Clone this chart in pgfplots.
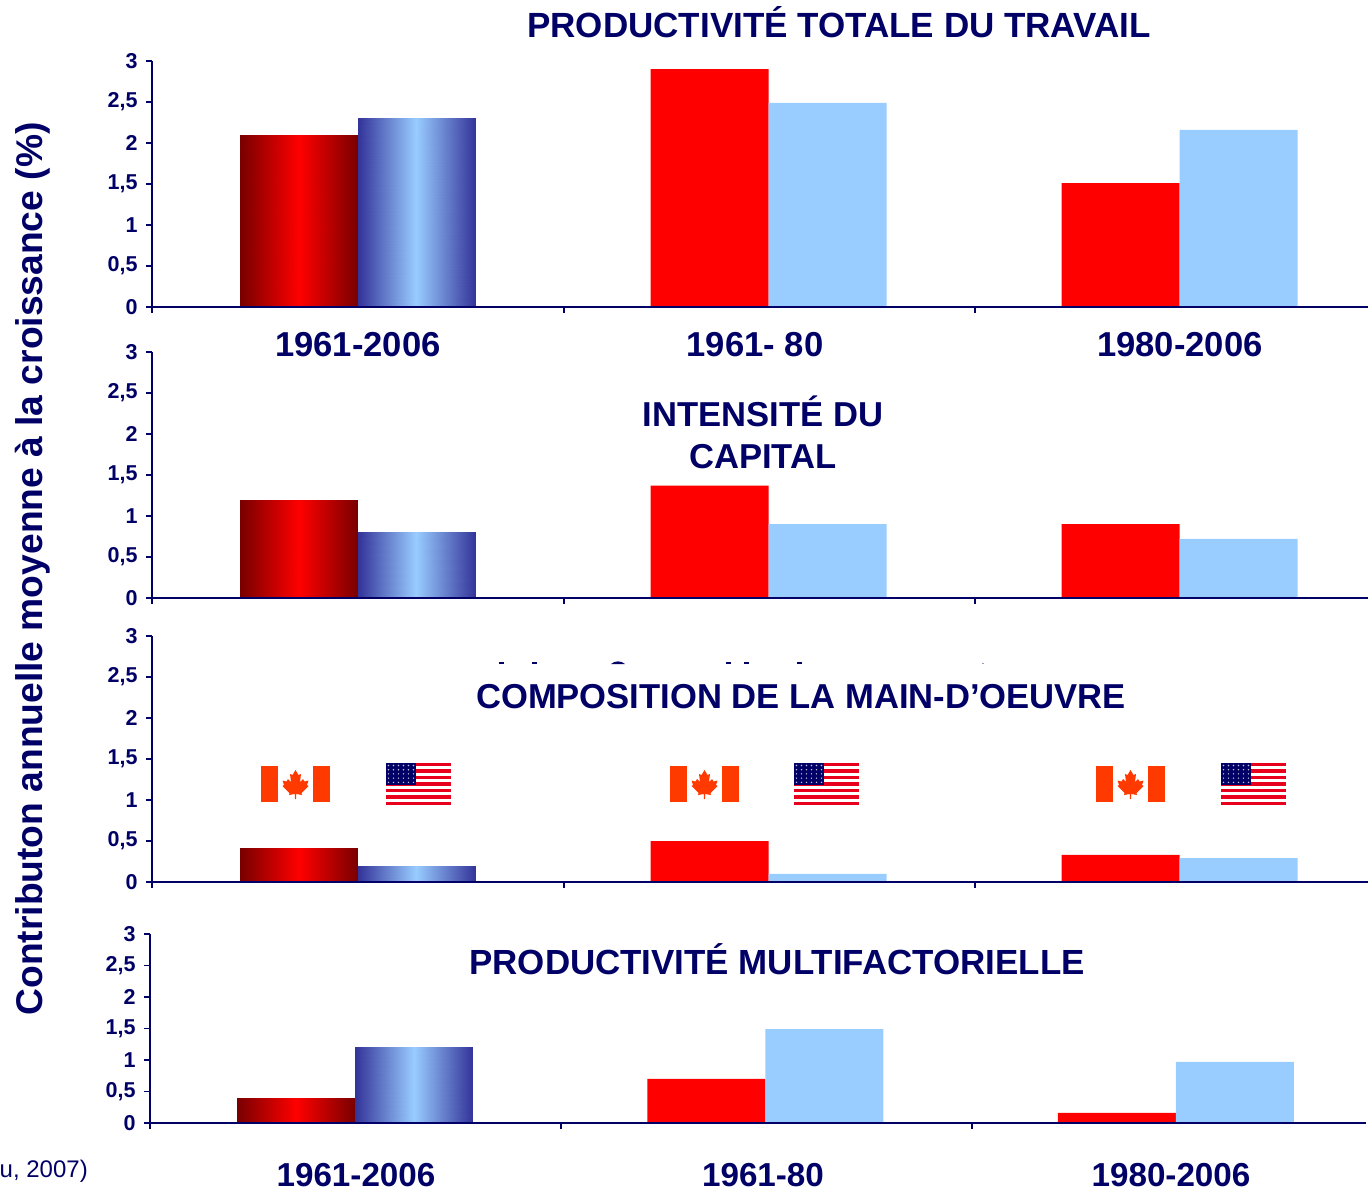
\documentclass[border=0pt]{standalone}
\usepackage{pgfplots}
\usepackage{fontspec}
\setmainfont{Liberation Sans}
\pgfplotsset{compat=1.18}
\definecolor{navy}{HTML}{000066}
\definecolor{rouge}{HTML}{FF0000}
\definecolor{rougefonce}{HTML}{780000}
\definecolor{bleu}{HTML}{99CCFF}
\definecolor{bleufonce}{HTML}{333399}
\definecolor{flagred}{HTML}{FF3A00}
\definecolor{usred}{HTML}{E8001C}

\pgfplotsset{
  colormap={cmrouge}{color(0)=(rougefonce) color(1)=(rouge)},
  colormap={cmbleu}{color(0)=(bleufonce) color(1)=(bleu)},
  panel/.style={
    scale only axis, width=1216pt,
    axis on top, clip=false,
    xmin=0, xmax=2.9586, ymin=0, ymax=3,
    point meta min=0, point meta max=1,
    axis lines=left, axis line style={-, navy, line width=1.8pt},
    xtick={0,1.0024,2.0024}, xticklabels={},
    x tick style={navy, line width=1.8pt}, y tick style={navy, line width=1.8pt},
    tick align=outside, major tick length=6pt,
    ytick={0,0.5,...,3}, yticklabels={0,{0,5},1,{1,5},2,{2,5},3},
    tick label style={font=\fontsize{21.5}{23}\selectfont\bfseries, text=navy},
    y tick label style={xshift=-5pt},
  },
  ca/.style={ybar, bar width=118pt, draw=none, fill=rouge, bar shift=-59pt},
  us/.style={ybar, bar width=118pt, draw=none, fill=bleu, bar shift=59pt},
  cagrad/.style={surf, shader=interp, colormap name=cmrouge, mesh/cols=3, point meta=explicit},
  usgrad/.style={surf, shader=interp, colormap name=cmbleu, mesh/cols=3, point meta=explicit},
}
\newcommand\titre[4][34.6]{\node[text=navy, font=\fontsize{#1}{36}\selectfont\bfseries, inner sep=0pt, anchor=base] at (#2,#3) {#4};}

\begin{document}
\begin{tikzpicture}[x=1pt,y=1pt]
\useasboundingbox (0,0) rectangle (1368,-1188);

\begin{axis}[panel, height=246pt, at={(152pt,-307pt)}, anchor=south west]
\addplot[cagrad] table[meta=m] {
x y m
0.2129 0 0
0.3565 0 1
0.5 0 0
0.2129 2.1 0
0.3565 2.1 1
0.5 2.1 0
};
\addplot[usgrad] table[meta=m] {
x y m
0.5 0 0
0.6435 0 1
0.7871 0 0
0.5 2.3 0
0.6435 2.3 1
0.7871 2.3 0
};
\addplot[ca] coordinates {(1.5,2.9) (2.5,1.51)};
\addplot[us] coordinates {(1.5,2.49) (2.5,2.16)};
\end{axis}

\begin{axis}[panel, height=246pt, at={(152pt,-598pt)}, anchor=south west]
\addplot[cagrad] table[meta=m] {
x y m
0.2129 0 0
0.3565 0 1
0.5 0 0
0.2129 1.2 0
0.3565 1.2 1
0.5 1.2 0
};
\addplot[usgrad] table[meta=m] {
x y m
0.5 0 0
0.6435 0 1
0.7871 0 0
0.5 0.8 0
0.6435 0.8 1
0.7871 0.8 0
};
\addplot[ca] coordinates {(1.5,1.37) (2.5,0.9)};
\addplot[us] coordinates {(1.5,0.9) (2.5,0.72)};
\end{axis}

\begin{axis}[panel, height=246pt, at={(152pt,-882pt)}, anchor=south west]
\addplot[cagrad] table[meta=m] {
x y m
0.2129 0 0
0.3565 0 1
0.5 0 0
0.2129 0.41 0
0.3565 0.41 1
0.5 0.41 0
};
\addplot[usgrad] table[meta=m] {
x y m
0.5 0 0
0.6435 0 1
0.7871 0 0
0.5 0.2 0
0.6435 0.2 1
0.7871 0.2 0
};
\addplot[ca] coordinates {(1.5,0.5) (2.5,0.33)};
\addplot[us] coordinates {(1.5,0.1) (2.5,0.29)};
\end{axis}

\begin{axis}[panel, height=189pt, at={(150pt,-1123pt)}, anchor=south west, xmax=2.9635]
\addplot[cagrad] table[meta=m] {
x y m
0.2129 0 0
0.3565 0 1
0.5 0 0
0.2129 0.4 0
0.3565 0.4 1
0.5 0.4 0
};
\addplot[usgrad] table[meta=m] {
x y m
0.5 0 0
0.6435 0 1
0.7871 0 0
0.5 1.2 0
0.6435 1.2 1
0.7871 1.2 0
};
\addplot[ca] coordinates {(1.5,0.7) (2.5,0.16)};
\addplot[us] coordinates {(1.5,1.49) (2.5,0.97)};
\end{axis}

\titre[35]{839}{-38}{PRODUCTIVITÉ TOTALE DU TRAVAIL}
\titre{763}{-426}{INTENSITÉ DU}
\titre{763}{-468}{CAPITAL}
\titre{801}{-708}{COMPOSITION DE LA MAIN-D’OEUVRE}
\titre[34.9]{777}{-974}{PRODUCTIVITÉ MULTIFACTORIELLE}

\titre{358}{-356}{1961-2006}
\titre{755}{-356}{1961- 80}
\titre{1180}{-356}{1980-2006}
\titre[33.2]{356}{-1186.5}{1961-2006}
\titre[33.2]{763}{-1186.5}{1961-80}
\titre[33.2]{1171}{-1186.5}{1980-2006}

\node[text=navy, font=\fontsize{37.2}{40}\selectfont\bfseries, rotate=90, inner sep=0pt] at (33,-569) {Contributon annuelle moyenne à la croissance (\%)};
\node[text=navy, font=\fontsize{24}{26}\selectfont, inner sep=0pt, anchor=east] at (88,-1171) {u, 2007)};

% bouts de texte coupes au-dessus du titre
\fill[navy] (499,-662) rectangle (504,-664);
\fill[navy] (532,-662) rectangle (537,-664);
\fill[navy] (611,-664) .. controls (615,-660.5) and (621,-660.5) .. (625,-664) -- cycle;
\fill[navy] (726,-662) rectangle (731,-664);
\fill[navy] (744,-662) rectangle (749,-664);
\fill[navy] (797,-662) rectangle (802,-664);
\fill[navy!40] (982,-662.5) rectangle (984,-663.5);

% drapeaux
\foreach \x in {261,670,1096} {
  \begin{scope}[shift={(\x,-766)}]
    \fill[flagred] (0,0) rectangle (69,-36);
    \fill[white] (17,0) rectangle (52,-36);
    \fill[flagred] (34.5,-4) -- (37.5,-9) -- (40,-8) -- (39,-16) -- (42,-13) -- (43.5,-15.5) -- (47.5,-14.5) -- (46,-19) -- (47.5,-20) -- (40.5,-27) -- (41,-29) -- (35.2,-28) -- (35.2,-33) -- (33.8,-33) -- (33.8,-28) -- (28,-29) -- (28.5,-27) -- (21.5,-20) -- (23,-19) -- (21.5,-14.5) -- (25.5,-15.5) -- (27,-13) -- (30,-16) -- (29,-8) -- (31.5,-9) -- cycle;
  \end{scope}
}
\foreach \x in {386,794,1221} {
  \begin{scope}[shift={(\x,-763)}]
    \fill[white] (0,0) rectangle (65,-42);
    \foreach \s in {0,2,...,12} \fill[usred] (0,{-\s*42/13}) rectangle (65,{-(\s+1)*42/13});
    \fill[navy] (0,0) rectangle (30,-22);
    \foreach \i in {0,...,5} \foreach \j in {0,...,4}
      \fill[white!75!navy] ({2.5+\i*5},{-2.5-\j*4.2}) circle (0.8);
  \end{scope}
}
\end{tikzpicture}
\end{document}
